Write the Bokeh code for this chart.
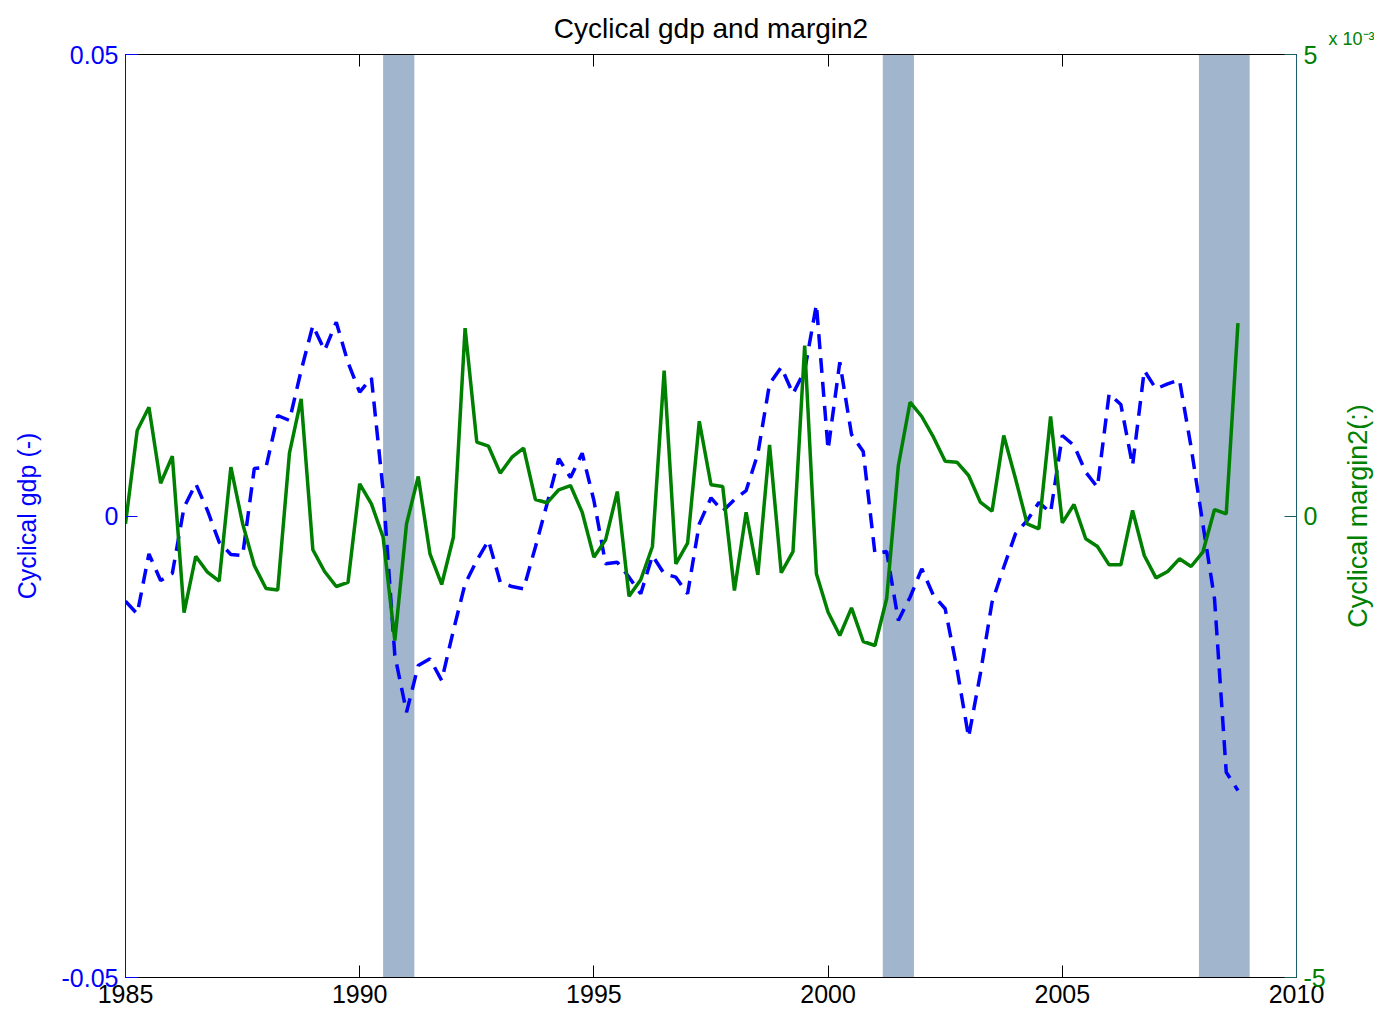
from bokeh.plotting import figure
from bokeh.layouts import row
from bokeh.models import Range1d, LinearAxis, FixedTicker, Title
from bokeh.embed import file_html
from bokeh.resources import INLINE

# quarterly dates 1985Q1 .. 2008Q4
quarters = [1985 + q / 4 for q in range(96)]

cyclical_gdp = [
    -0.00923, -0.01060, -0.00410, -0.00699, -0.00620, 0.00095, 0.00349, 0.00060,
    -0.00284, -0.00417, -0.00428, 0.00515, 0.00529, 0.01089, 0.01035, 0.01576,
    0.02064, 0.01793, 0.02100, 0.01663, 0.01341, 0.01497, 0.00276, -0.01511,
    -0.02126, -0.01620, -0.01547, -0.01782, -0.01241, -0.00735, -0.00482, -0.00265,
    -0.00717, -0.00764, -0.00789, -0.00338, 0.00132, 0.00620, 0.00417, 0.00680,
    0.00168, -0.00518, -0.00501, -0.00663, -0.00843, -0.00428, -0.00626, -0.00663,
    -0.00843, -0.00085, 0.00197, 0.00052, 0.00176, 0.00276, 0.00674, 0.01432,
    0.01612, 0.01324, 0.01576, 0.02291, 0.00720, 0.01666, 0.00883, 0.00699,
    -0.00406, -0.00385, -0.01132, -0.00880, -0.00572, -0.00861, -0.01005, -0.01652,
    -0.02397, -0.01710, -0.00934, -0.00555, -0.00193, -0.00049, 0.00146, 0.00038,
    0.00872, 0.00764, 0.00475, 0.00312, 0.01324, 0.01208, 0.00547, 0.01576,
    0.01378, 0.01432, 0.01476, 0.00745, -0.00085, -0.00897, -0.02776, -0.02974,
]

# cyclical margin2, in units of 1e-3
cyclical_margin2_e3 = [
    -0.085, 0.926, 1.179, 0.355, 0.648, -1.046, -0.436, -0.609,
    -0.706, 0.529, -0.081, -0.536, -0.785, -0.802, 0.680, 1.270,
    -0.366, -0.601, -0.764, -0.720, 0.349, 0.132, -0.230, -1.349,
    -0.085, 0.428, -0.410, -0.742, -0.230, 2.035, 0.800, 0.756,
    0.464, 0.637, 0.735, 0.179, 0.143, 0.284, 0.330, 0.041,
    -0.446, -0.258, 0.265, -0.869, -0.691, -0.330, 1.576, -0.518,
    -0.295, 1.027, 0.338, 0.320, -0.807, 0.041, -0.637, 0.771,
    -0.615, -0.385, 1.847, -0.626, -1.042, -1.295, -0.995, -1.360,
    -1.403, -0.897, 0.547, 1.233, 1.078, 0.854, 0.594, 0.583,
    0.439, 0.150, 0.052, 0.872, 0.406, -0.085, -0.139, 1.078,
    -0.074, 0.125, -0.247, -0.330, -0.529, -0.529, 0.060, -0.428,
    -0.670, -0.601, -0.464, -0.547, -0.392, 0.070, 0.024, 2.089,
]

recession_start = [1990.5, 2001.167, 2007.917]
recession_end = [1991.167, 2001.833, 2009.0]

x_ticks = [1985, 1990, 1995, 2000, 2005, 2010]
gdp_ticks = [-0.05, 0, 0.05]
gdp_tick_labels = {-0.05: "-0.05", 0: "0", 0.05: "0.05"}
margin_ticks = [-5, 0, 5]
margin_tick_labels = {-5: "-5", 0: "0", 5: "5"}

X_MIN, X_MAX = 1985, 2010
GDP_MIN, GDP_MAX = -0.05, 0.05
M_MIN, M_MAX = -5, 5

FONT = "Liberation Sans"
BLUE = "#0000ff"
GREEN = "#008000"

p = figure(width=1328, height=1014,
           x_range=Range1d(X_MIN, X_MAX), y_range=Range1d(GDP_MIN, GDP_MAX),
           output_backend="svg", toolbar_location=None,
           min_border_left=125, min_border_right=30,
           min_border_top=54, min_border_bottom=37)
p.extra_y_ranges = {"m": Range1d(M_MIN, M_MAX)}

p.xgrid.visible = False
p.ygrid.visible = False
p.outline_line_color = "black"
p.outline_line_width = 1
p.background_fill_color = "white"
p.border_fill_color = "white"

p.title.text = "Cyclical gdp and margin2"
p.title.align = "center"
p.title.text_font = FONT
p.title.text_font_size = "28px"
p.title.text_font_style = "normal"
p.title.text_color = "black"
p.title.standoff = 21

# recession bands
p.quad(left=recession_start, right=recession_end, bottom=GDP_MIN, top=GDP_MAX,
       fill_color="#a1b5cc", line_color=None)

# series
p.line(quarters, cyclical_gdp, line_color=BLUE, line_width=3.5, line_dash="15 9")
p.line(quarters, cyclical_margin2_e3, y_range_name="m", line_color=GREEN, line_width=3.5)

def style_axis(ax, color, label_color):
    ax.axis_line_color = color
    ax.major_tick_line_color = color
    ax.major_tick_in = 12
    ax.major_tick_out = 0
    ax.minor_tick_line_color = None
    ax.major_label_text_font = FONT
    ax.major_label_text_font_size = "25px"
    ax.major_label_text_color = label_color
    ax.major_label_standoff = 7
    ax.axis_label_text_font = FONT
    ax.axis_label_text_font_size = "25px"
    ax.axis_label_text_font_style = "normal"
    ax.axis_label_text_color = label_color

xa = p.xaxis[0]
xa.ticker = FixedTicker(ticks=x_ticks)
style_axis(xa, "black", "black")
xa.major_label_standoff = 7

ya = p.yaxis[0]
ya.ticker = FixedTicker(ticks=gdp_ticks)
style_axis(ya, BLUE, BLUE)
ya.axis_label = "Cyclical gdp (-)"
ya.axis_label_standoff = 18
ya.major_label_overrides = gdp_tick_labels

# right axis: ticks and tick labels
ra = LinearAxis(y_range_name="m", ticker=FixedTicker(ticks=margin_ticks))
style_axis(ra, "#1b5e6b", GREEN)
ra.major_label_overrides = margin_tick_labels
p.add_layout(ra, "right")

# top ticks (no labels)
ta = LinearAxis(ticker=FixedTicker(ticks=x_ticks))
style_axis(ta, "black", "black")
ta.major_label_text_font_size = "0px"
ta.major_label_text_color = None
ta.major_label_standoff = 0
p.add_layout(ta, "above")

# narrow companion panel carrying the right-axis title (reads bottom-to-top)
# and the x 10^-3 exponent of the right axis
p2 = figure(width=46, height=1014, output_backend="svg", toolbar_location=None,
            x_axis_location=None, y_axis_location=None,
            min_border_left=44, min_border_right=0,
            min_border_top=54, min_border_bottom=37)
p2.xgrid.visible = False
p2.ygrid.visible = False
p2.outline_line_color = None
p2.background_fill_color = "white"
p2.border_fill_color = "white"
p2.add_layout(Title(text="Cyclical margin2(:)", align="center", standoff=0,
                    text_font=FONT, text_font_size="27px", text_font_style="normal",
                    text_color=GREEN), "left")
p2.add_layout(Title(text="x 10\u207b\u00b3", align="right", offset=0, standoff=12,
                    text_font=FONT, text_font_size="18px", text_font_style="normal",
                    text_color=GREEN), "above")

layout = row(p, p2, spacing=0)
open("out.html", "w").write(file_html(layout, INLINE))
